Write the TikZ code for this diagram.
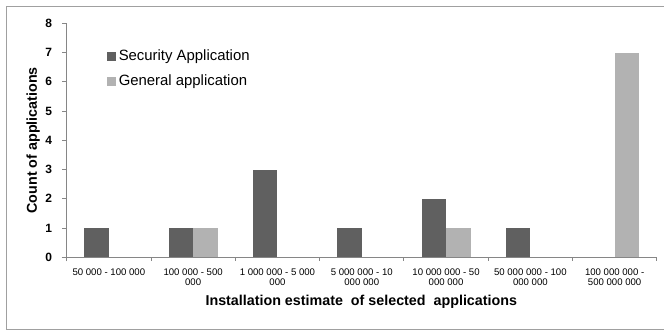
\documentclass[tikz,border=0pt]{standalone}
\usepackage{fontspec}
\setmainfont{Liberation Sans}
\usetikzlibrary{positioning}

\definecolor{secbar}{RGB}{96,96,96}
\definecolor{genbar}{RGB}{178,178,178}
\definecolor{framegray}{RGB}{160,160,160}
\definecolor{axisgray}{RGB}{134,134,134}

\tikzset{
    axisline/.style={draw=axisgray, line width=0.9pt},
    legbox/.style={rectangle, minimum size=8.5pt, inner sep=0pt},
    legtext/.style={inner sep=0pt, font=\fontsize{14.9}{16}\selectfont},
    ticklabel/.style={inner sep=0pt, font=\bfseries\fontsize{12}{14}\selectfont},
    catlabel/.style={inner sep=0pt, align=center,
        font=\fontsize{9.6}{10}\selectfont},
    axistitle/.style={inner sep=0pt, font=\bfseries\fontsize{14.3}{16}\selectfont}
}

\begin{document}
\begin{tikzpicture}[x=1pt, y=-1pt]
    \useasboundingbox (0,0) rectangle (664,331);
    % outer chart frame (right side runs off the page)
    \draw[framegray, line width=1.2pt] (680,6.5) -- (6.5,6.5) -- (6.5,329.3)
        -- (680,329.3);

    % legend
    \node[legbox, fill=secbar] (keysec) at (111.6,56.5) {};
    \node[legtext, right=2.5pt of keysec] (legsec) {Security Application};
    \node[legbox, fill=genbar] (keygen) at (111.6,81.5) {};
    \node[legtext, right=2.5pt of keygen] (leggen) {General application};

    % axis titles
    \node[axistitle, rotate=90] (ytitle) at (33.3,140.3) {Count of applications};
    \node[axistitle] (xtitle) at (361.3,301.7)
        {Installation estimate\ \ of selected\ \ applications};

    \begin{scope}[shift={(66.7,257.3)}, x=84.3pt, y=29.25pt]
        % bars: security / general
        \foreach \i/\s/\g in {1/1/0, 2/1/1, 3/3/0, 4/1/0, 5/2/1, 6/1/0, 7/0/7}
        {
            \ifnum\s>0
                \fill[secbar] (\i-0.79,0) rectangle (\i-0.5,\s);
            \fi
            \ifnum\g>0
                \fill[genbar] (\i-0.5,0) rectangle (\i-0.21,\g);
            \fi
        }

        % y axis with ticks
        \draw[axisline] (0,-4pt) -- (0,8);
        \foreach \k in {0,...,8}
        {
            \draw[axisline] (0,\k) -- ++(-5pt,0);
            \node[ticklabel, anchor=east] (yt\k) at ([xshift=-14.5pt]0,\k) {\k};
        }

        % x axis with ticks
        \draw[axisline] (-5pt,0) -- (7,0);
        \foreach \i in {1,...,7}
            \draw[axisline] (\i,0) -- ++(0,-4pt);

        % category labels
        \foreach \i/\txt in {1/{50 000 - 100 000},
                2/{100 000 - 500\\000},
                3/{1 000 000 - 5 000\\000},
                4/{5 000 000 - 10\\000 000},
                5/{10 000 000 - 50\\000 000},
                6/{50 000 000 - 100\\000 000},
                7/{100 000 000 -\\500 000 000}}
        {
            \node[catlabel, anchor=north] (cat\i) at ([yshift=-11pt]\i-0.5,0) {\txt};
        }
    \end{scope}
\end{tikzpicture}
\end{document}
